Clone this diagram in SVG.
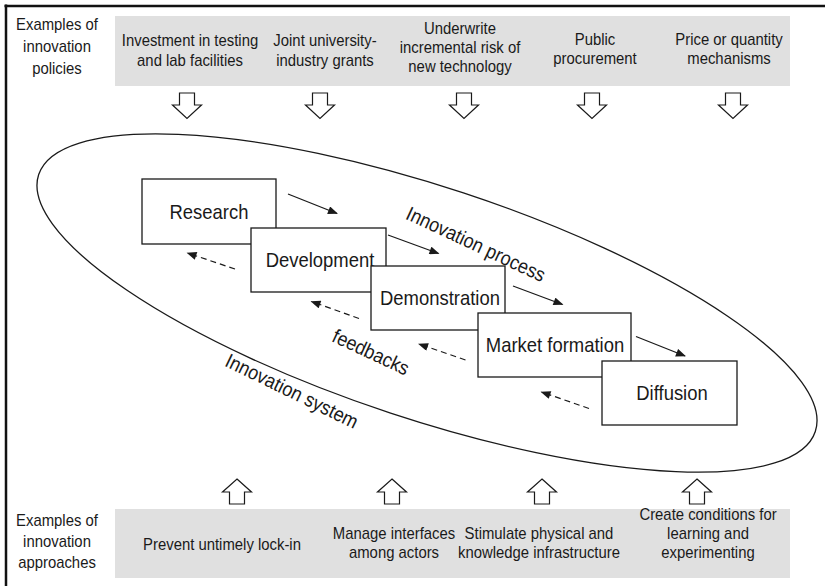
<svg xmlns="http://www.w3.org/2000/svg" width="825" height="586" viewBox="0 0 825 586">
  <style>
    text { font-family: "Liberation Sans", Arial, sans-serif; fill: #1a1a1a; }
    .lbl { font-size: 16px; text-anchor: middle; }
    .node-label { font-size: 20.5px; text-anchor: middle; }
    .rot { font-size: 20px; text-anchor: middle; }
    .band { fill: #e0e0e0; }
    .node { fill: #ffffff; stroke: #1a1a1a; stroke-width: 1.3; }
    .block { fill: #ffffff; stroke: #1a1a1a; stroke-width: 1.2; stroke-linejoin: miter; }
    .flow { stroke: #1a1a1a; stroke-width: 1.3; fill: none; marker-end: url(#head); }
    .back { stroke: #1a1a1a; stroke-width: 1.2; fill: none; stroke-dasharray: 6 4; marker-end: url(#head); }
  </style>
  <defs>
    <marker id="head" viewBox="0 0 10 8" refX="9" refY="4" markerWidth="11" markerHeight="8" markerUnits="userSpaceOnUse" orient="auto">
      <path d="M0,0 L10,4 L0,8 Z" fill="#1a1a1a"/>
    </marker>
    <path id="down" d="M-7.5,0 H7.5 V12 H14.5 L0,25.5 L-14.5,12 H-7.5 Z"/>
    <path id="up" d="M0,0 L14.5,13 H7.5 V25 H-7.5 V13 H-14.5 Z"/>
  </defs>

  <rect width="825" height="586" fill="#ffffff"/>

  <!-- frame: top and left edges -->
  <g id="frame" stroke="#111" stroke-width="2.5">
    <line x1="4.5" y1="6" x2="825" y2="6"/>
    <line x1="6" y1="4.5" x2="6" y2="586"/>
  </g>

  <!-- policy band (labels narrowed horizontally about their centre) -->
  <g id="policies">
    <text class="lbl" transform="translate(57 0) scale(0.93 1)"><tspan x="0" y="30">Examples of</tspan><tspan x="0" y="52">innovation</tspan><tspan x="0" y="74">policies</tspan></text>
    <rect class="band" x="115" y="16" width="675" height="70"/>
    <g id="policy-testing"><text class="lbl" transform="translate(190 0) scale(0.93 1)"><tspan x="0" y="46">Investment in testing</tspan><tspan x="0" y="66">and lab facilities</tspan></text></g>
    <g id="policy-grants"><text class="lbl" transform="translate(325 0) scale(0.93 1)"><tspan x="0" y="46">Joint university-</tspan><tspan x="0" y="66">industry grants</tspan></text></g>
    <g id="policy-risk"><text class="lbl" transform="translate(460 0) scale(0.93 1)"><tspan x="0" y="34">Underwrite</tspan><tspan x="0" y="53">incremental risk of</tspan><tspan x="0" y="72">new technology</tspan></text></g>
    <g id="policy-procurement"><text class="lbl" transform="translate(595 0) scale(0.93 1)"><tspan x="0" y="45">Public</tspan><tspan x="0" y="64">procurement</tspan></text></g>
    <g id="policy-price"><text class="lbl" transform="translate(729 0) scale(0.93 1)"><tspan x="0" y="45">Price or quantity</tspan><tspan x="0" y="64">mechanisms</tspan></text></g>
  </g>

  <!-- innovation system boundary -->
  <g id="innovation-system">
    <ellipse cx="427" cy="303" rx="409" ry="116" transform="rotate(18.3 427 303)" fill="none" stroke="#1a1a1a" stroke-width="1.3"/>
    <text class="rot" transform="translate(292 391) rotate(26) scale(0.9 1)" y="7">Innovation system</text>
  </g>

  <!-- process stages -->
  <g id="research">
    <rect class="node" x="142" y="179" width="134" height="65"/>
    <text class="node-label" transform="translate(209 219) scale(0.9 1)">Research</text>
  </g>
  <g id="development">
    <rect class="node" x="251" y="228" width="135" height="64"/>
    <text class="node-label" transform="translate(320 267) scale(0.9 1)">Development</text>
  </g>
  <g id="demonstration">
    <rect class="node" x="371" y="266" width="134" height="64"/>
    <text class="node-label" transform="translate(440 305) scale(0.9 1)">Demonstration</text>
  </g>
  <g id="market-formation">
    <rect class="node" x="478" y="313" width="153" height="64"/>
    <text class="node-label" transform="translate(555 352) scale(0.9 1)">Market formation</text>
  </g>
  <g id="diffusion">
    <rect class="node" x="602" y="361" width="135" height="64"/>
    <text class="node-label" transform="translate(672 400) scale(0.9 1)">Diffusion</text>
  </g>

  <g id="process-labels">
    <text class="rot" transform="translate(476 244) rotate(25) scale(0.9 1)" y="7">Innovation process</text>
    <text class="rot" transform="translate(371 352) rotate(25) scale(0.9 1)" y="7">feedbacks</text>
  </g>

  <!-- connectors -->
  <g id="connectors">
    <line class="flow" x1="288" y1="194" x2="337" y2="213.5"/>
    <line class="flow" x1="388" y1="235" x2="438.5" y2="253.5"/>
    <line class="flow" x1="513" y1="286" x2="562.5" y2="304.5"/>
    <line class="flow" x1="636" y1="336.5" x2="685" y2="356"/>

    <line class="back" x1="235" y1="269" x2="187.5" y2="253"/>
    <line class="back" x1="359" y1="318.5" x2="311.5" y2="301.5"/>
    <line class="back" x1="465.5" y1="360" x2="419" y2="344"/>
    <line class="back" x1="589" y1="408.5" x2="541.5" y2="392"/>

    <g class="block">
      <use href="#down" x="187" y="93"/>
      <use href="#down" x="320" y="93"/>
      <use href="#down" x="464" y="93"/>
      <use href="#down" x="592" y="93"/>
      <use href="#down" x="733" y="93"/>
      <use href="#up" x="237" y="479"/>
      <use href="#up" x="392" y="479"/>
      <use href="#up" x="542" y="479"/>
      <use href="#up" x="697" y="479"/>
    </g>
  </g>

  <!-- approaches band -->
  <g id="approaches">
    <text class="lbl" transform="translate(57 0) scale(0.93 1)"><tspan x="0" y="526">Examples of</tspan><tspan x="0" y="547">innovation</tspan><tspan x="0" y="568">approaches</tspan></text>
    <rect class="band" x="115" y="509" width="675" height="69"/>
    <g id="approach-lockin"><text class="lbl" transform="translate(222 0) scale(0.93 1)" x="0" y="550">Prevent untimely lock-in</text></g>
    <g id="approach-interfaces"><text class="lbl" transform="translate(394 0) scale(0.93 1)"><tspan x="0" y="539">Manage interfaces</tspan><tspan x="0" y="558">among actors</tspan></text></g>
    <g id="approach-infrastructure"><text class="lbl" transform="translate(539 0) scale(0.93 1)"><tspan x="0" y="539">Stimulate physical and</tspan><tspan x="0" y="558">knowledge infrastructure</tspan></text></g>
    <g id="approach-learning"><text class="lbl" transform="translate(708 0) scale(0.93 1)"><tspan x="0" y="520">Create conditions for</tspan><tspan x="0" y="539">learning and</tspan><tspan x="0" y="558">experimenting</tspan></text></g>
  </g>
</svg>
